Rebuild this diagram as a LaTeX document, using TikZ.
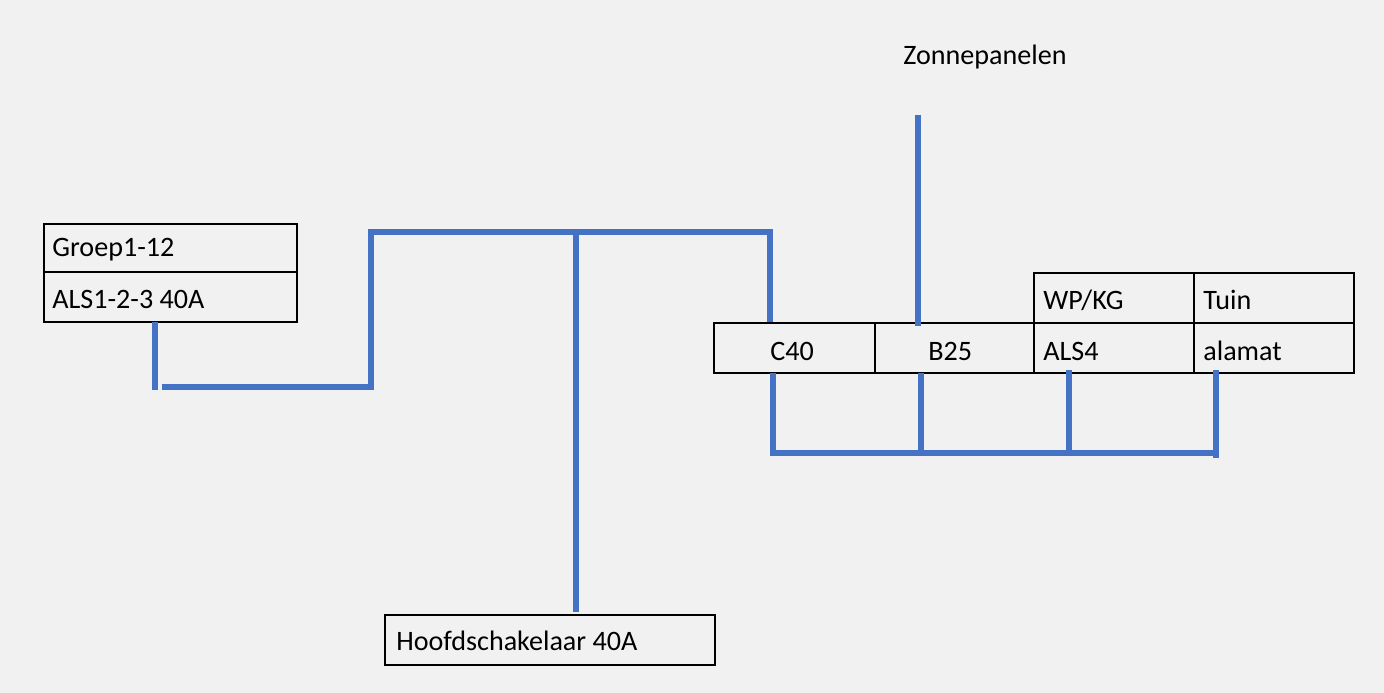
\documentclass[tikz,border=0pt]{standalone}
\usepackage{fontspec}
\setmainfont{Carlito}
\usetikzlibrary{positioning}
\definecolor{bg}{HTML}{F1F1F1}
\definecolor{wire}{HTML}{4472C4}
\tikzset{
every node/.style={font=\fontsize{16}{19}\selectfont},
cell/.style={draw=black,line width=1.5pt,inner sep=0pt},
lbl/.style={anchor=west,inner sep=0pt},
line/.style={draw=wire,line width=3.4pt}
}
\begin{document}
\begin{tikzpicture}[x=0.02cm,y=-0.02cm]
   \fill[bg] (0,0) rectangle (1384,693);
   \useasboundingbox (0,0) rectangle (1384,693);
   % boxes
   \draw[cell] (44,224) rectangle (297,272);
   \draw[cell] (44,272) rectangle (297,322);
   \draw[cell] (1034,273) rectangle (1194,323);
   \draw[cell] (1194,273) rectangle (1354,323);
   \draw[cell] (714,323) rectangle (875,373);
   \draw[cell] (875,323) rectangle (1034,373);
   \draw[cell] (1034,323) rectangle (1194,373);
   \draw[cell] (1194,323) rectangle (1354,373);
   \draw[cell] (385,615) rectangle (715,665);
   % texts
   \node[lbl] (groep) at (52,250) {Groep1-12};
   \node[lbl] (als) at (52,299) {ALS1-2-3 40A};
   \node[lbl] (wp) at (1043,300) {WP/KG};
   \node[lbl] (tuin) at (1203,300) {Tuin};
   \node[lbl] (c40) at (770,351) {C40};
   \node[lbl] (b25) at (928,351) {B25};
   \node[lbl] (als4) at (1043,351) {ALS4};
   \node[lbl] (alamat) at (1203,351) {alamat};
   \node[lbl] (hoofd) at (396,641) {Hoofdschakelaar 40A};
   \node (zon) at (985,57) {Zonnepanelen};
   % wires
   \coordinate (a1) at (155,322);
   \coordinate (a2) at (155,390);
   \coordinate (b1) at (162,387);
   \coordinate (b2) at (371,387);
   \coordinate (b3) at (371,232);
   \coordinate (b4) at (770,232);
   \coordinate (b5) at (770,322);
   \coordinate (h1) at (576,232);
   \coordinate (h2) at (576,612);
   \coordinate (z1) at (918,115);
   \coordinate (z2) at (918,326);
   \coordinate (c1) at (773,373);
   \coordinate (c2) at (773,453);
   \coordinate (c3) at (1218,453);
   \coordinate (d1) at (921,373);
   \coordinate (d2) at (921,453);
   \coordinate (e1) at (1069,370);
   \coordinate (e2) at (1069,456);
   \coordinate (f1) at (1216,370);
   \coordinate (f2) at (1216,458);
   \draw[line] (a1) -- (a2);
   \draw[line] (b1) -- (b2) -- (b3) -- (b4) -- (b5);
   \draw[line] (h1) -- (h2);
   \draw[line] (z1) -- (z2);
   \draw[line] (c1) -- (c2) -- (c3);
   \draw[line] (d1) -- (d2);
   \draw[line] (e1) -- (e2);
   \draw[line] (f1) -- (f2);
\end{tikzpicture}
\end{document}
